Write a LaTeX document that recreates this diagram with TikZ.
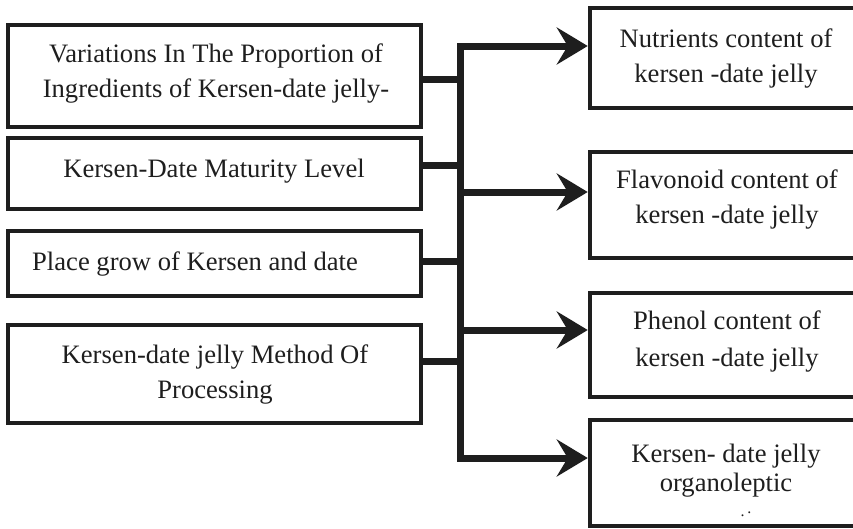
\documentclass[tikz,border=0pt]{standalone}
\usepackage{fontspec}
\setmainfont{Liberation Serif}
\usetikzlibrary{arrows.meta}
\definecolor{ink}{HTML}{1E1E1E}
\tikzset{
  box/.style={draw=ink, line width=4.5pt, inner sep=0pt, minimum width=#1},
  lbox/.style={box=413pt},
  rbox/.style={box=272pt},
  txt/.style={text=ink, align=center, inner sep=0pt, font=\fontsize{26.6}{35}\selectfont},
  conn/.style={draw=ink, line width=7pt},
  arr/.style={-{Stealth[length=31pt, width=37pt, inset=11pt]}},
}
\begin{document}
\begin{tikzpicture}[x=1pt, y=-1pt]
\useasboundingbox (0,0) rectangle (853,528);
% left boxes
\node[lbox, minimum height=102pt] (L1) at (214.5,76) {};
\node[lbox, minimum height=71pt]  (L2) at (214.5,173.5) {};
\node[lbox, minimum height=65pt]  (L3) at (214.5,263.5) {};
\node[lbox, minimum height=98pt]  (L4) at (214.5,374) {};
% right boxes
\node[rbox, minimum height=100pt] (R1) at (726,58) {};
\node[rbox, minimum height=106pt] (R2) at (726,205) {};
\node[rbox, minimum height=104pt] (R3) at (726,345) {};
\node[rbox, minimum height=106pt] (R4) at (726,473) {};
% texts
\node[txt] (tL1) at (216,73.8) {Variations In The Proportion of\\Ingredients of Kersen-date jelly-};
\node[txt, anchor=base] (tL2) at (214,177) {Kersen-Date Maturity Level};
\node[txt, anchor=base west] (tL3) at (32,270) {Place grow of Kersen and date};
\node[txt] (tL4) at (215,374.3) {Kersen-date jelly Method Of\\Processing};
\node[txt] (tR1) at (726,58.3) {Nutrients content of\\kersen -date jelly};
\node[txt] (tR2) at (727,199.3) {Flavonoid content of\\kersen -date jelly};
\node[txt, font=\fontsize{26.6}{37}\selectfont] (tR3) at (727,341.3) {Phenol content of\\kersen -date jelly};
\node[txt, font=\fontsize{26.6}{29}\selectfont] (tR4) at (726,471) {Kersen- date jelly\\organoleptic};
\node[text=ink, inner sep=0pt, anchor=base, font=\fontsize{16}{16}\selectfont] (tR4b) at (746,516) {.\,\raisebox{2.5pt}{.}};
% bus coordinates
\coordinate (top) at (460,46);
\coordinate (bot) at (460,458);
\coordinate (b1) at (460,79);
\coordinate (b2) at (460,165.5);
\coordinate (b3) at (460,261);
\coordinate (b4) at (460,361);
\coordinate (m2) at (460,192);
\coordinate (m3) at (460,330);
% connectors
\draw[conn] (L1.east |- b1) -- (b1);
\draw[conn] (L2.east |- b2) -- (b2);
\draw[conn] (L3.east |- b3) -- (b3);
\draw[conn] (L4.east |- b4) -- (b4);
\draw[conn, {Stealth[length=31pt, width=37pt, inset=11pt]}-{Stealth[length=31pt, width=37pt, inset=11pt]}]
  (R1.west |- top) -- (top) -- (bot) -- (R4.west |- bot);
\draw[conn, arr] (m2) -- (R2.west |- m2);
\draw[conn, arr] (m3) -- (R3.west |- m3);
\end{tikzpicture}
\end{document}
